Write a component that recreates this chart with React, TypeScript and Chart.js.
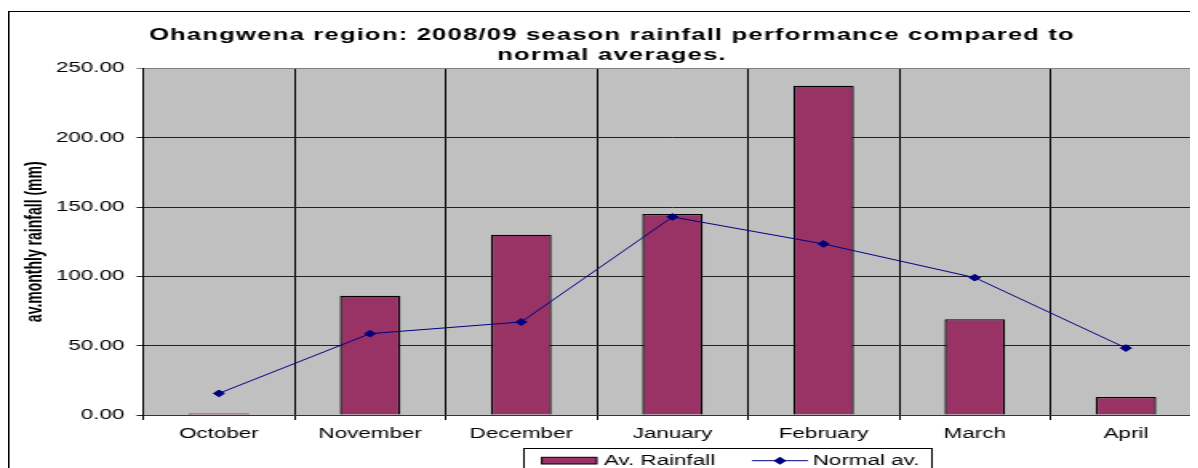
import React, { useEffect, useRef } from "react";
import { Chart, registerables } from "chart.js";

Chart.register(...registerables);

const categories = ["October", "November", "December", "January", "February", "March", "April"];
const avRainfall = [1, 86, 130, 145, 237.5, 69, 13];
const normalAv = [15.6, 58.7, 67.1, 142.9, 123.4, 99.1, 48.3];
const yTicks = [0, 50, 100, 150, 200, 250];
const titleLines = [
  "Ohangwena region: 2008/09 season rainfall performance compared to",
  "normal averages.",
];
const yAxisTitle = "av.monthly rainfall (mm)";
const seriesNames = ["Av. Rainfall", "Normal av."];

const STRETCH = 1.6;
const W = 754;
const H = 460;
const FONT = '"Liberation Sans", Arial, sans-serif';

const bgPlugin = {
  id: "bgPlugin",
  beforeDraw(chart: any) {
    const { ctx, chartArea } = chart;
    ctx.save();
    ctx.fillStyle = "#ffffff";
    ctx.fillRect(0, 0, chart.width, chart.height);
    ctx.fillStyle = "#C0C0C0";
    ctx.fillRect(chartArea.left, chartArea.top, chartArea.right - chartArea.left, chartArea.bottom - chartArea.top);
    ctx.strokeStyle = "#000";
    ctx.lineWidth = 1;
    ctx.strokeRect(0.5, 3.5, chart.width - 1, chart.height + 10);
    ctx.restore();
  },
};

const titlePlugin = {
  id: "spacedTitle",
  afterDraw(chart: any) {
    const { ctx } = chart;
    ctx.save();
    ctx.font = `bold 16px ${FONT}`;
    ctx.fillStyle = "#000";
    ctx.textAlign = "center";
    ctx.textBaseline = "middle";
    try {
      (ctx as any).letterSpacing = "0.75px";
    } catch (e) {}
    const cx = 377.5;
    titleLines.forEach((line, i) => {
      ctx.fillText(line, cx, 27.5 + i * 20.5);
    });
    ctx.restore();
  },
};

const diamond = (ctx: any, x: number, y: number, r: number) => {
  ctx.beginPath();
  ctx.moveTo(x - r, y);
  ctx.lineTo(x, y - r);
  ctx.lineTo(x + r, y);
  ctx.lineTo(x, y + r);
  ctx.closePath();
  ctx.fill();
};

const legendPlugin = {
  id: "boxLegend",
  afterDraw(chart: any) {
    const { ctx } = chart;
    const ds = chart.data.datasets;
    ctx.save();
    const bx = 322.5, by = 440.5, bw = 255, bh = 30;
    ctx.fillStyle = "#fff";
    ctx.fillRect(bx, by, bw, bh);
    ctx.strokeStyle = "#000";
    ctx.lineWidth = 1;
    ctx.strokeRect(bx, by, bw, bh);
    ctx.font = `14px ${FONT}`;
    ctx.textBaseline = "alphabetic";
    ctx.textAlign = "left";
    ctx.fillStyle = ds[0].backgroundColor;
    ctx.fillRect(333.6, 449.3, 34.4, 6.7);
    ctx.strokeRect(333.6, 449.3, 34.4, 6.7);
    ctx.fillStyle = "#000";
    ctx.fillText(ds[0].label, 372.5, 456.5);
    const cy = 452.7;
    ctx.strokeStyle = ds[1].borderColor;
    ctx.beginPath();
    ctx.moveTo(465, cy);
    ctx.lineTo(500, cy);
    ctx.stroke();
    ctx.fillStyle = ds[1].borderColor;
    diamond(ctx, 482.5, cy, 4);
    ctx.fillStyle = "#000";
    ctx.fillText(ds[1].label, 503, 456.5);
    ctx.restore();
  },
};

export default function App() {
  const canvasRef = useRef<HTMLCanvasElement | null>(null);

  useEffect(() => {
    document.documentElement.style.overflow = "hidden";
    const canvas = canvasRef.current;
    if (!canvas) return;
    const chart = new Chart(canvas, {
      type: "bar",
      data: {
        labels: categories,
        datasets: [
          {
            type: "bar",
            label: seriesNames[0],
            data: avRainfall,
            backgroundColor: "#993366",
            borderColor: "#000000",
            borderWidth: { left: 1.3, right: 1.3, top: 1.2, bottom: 0 },
            borderSkipped: "start",
            barPercentage: 0.4,
            categoryPercentage: 1,
            order: 2,
          } as any,
          {
            type: "line",
            label: seriesNames[1],
            data: normalAv,
            borderColor: "#000080",
            backgroundColor: "#000080",
            borderWidth: 1,
            pointStyle: "rectRot",
            pointRadius: 3.4,
            pointBorderWidth: 1,
            pointBackgroundColor: "#000080",
            pointBorderColor: "#000080",
            tension: 0,
            order: 1,
          } as any,
        ],
      },
      options: {
        responsive: false,
        animation: false,
        devicePixelRatio: 1,
        layout: { padding: { left: 0, right: 8, top: 60.5, bottom: 0 } },
        plugins: {
          legend: { display: false },
          tooltip: { enabled: false },
          title: { display: false },
        },
        scales: {
          x: {
            offset: true,
            grid: {
              offset: true,
              color: "#000",
              lineWidth: 1,
              drawTicks: true,
              tickLength: 5,
            },
            border: { display: true, color: "#333", width: 1 },
            ticks: {
              color: "#000",
              font: { family: FONT, size: 14 },
              padding: 5.5,
              maxRotation: 0,
              autoSkip: false,
            },
            afterFit: (s: any) => {
              s.height = 53;
            },
          },
          y: {
            min: 0,
            max: 250,
            afterBuildTicks: (s: any) => {
              s.ticks = yTicks.map((v) => ({ value: v }));
            },
            grid: {
              color: (c: any) => (c.tick && c.tick.value === 250 ? "#808080" : "#222"),
              lineWidth: 1,
              drawTicks: true,
              tickLength: 4.2,
            },
            border: { display: true, color: "#000", width: 1 },
            ticks: {
              color: "#000",
              font: { family: FONT, size: 14 },
              padding: 7.6,
              callback: (v: any) => Number(v).toFixed(2),
            },
            title: {
              display: true,
              text: yAxisTitle,
              color: "#000",
              font: { family: FONT, size: 14, weight: "bold" },
              padding: { top: 9.1, bottom: 0 },
            },
            afterFit: (s: any) => {
              s.width = 84.6;
            },
          },
        },
      },
      plugins: [bgPlugin, titlePlugin, legendPlugin],
    });
    return () => chart.destroy();
  }, []);

  return (
    <div style={{ position: "relative", width: 1190, height: 460, overflow: "hidden" }}>
      <div
        style={{
          width: W,
          height: H,
          transform: `scaleX(${STRETCH})`,
          transformOrigin: "0 0",
        }}
      >
        <canvas ref={canvasRef} width={W} height={H} style={{ display: "block", width: W, height: H }} />
      </div>
    </div>
  );
}
